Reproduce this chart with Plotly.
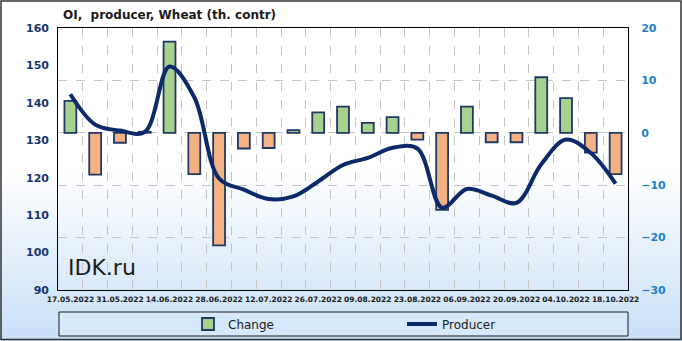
import plotly.graph_objects as go

dates = ["17.05.2022", "24.05.2022", "31.05.2022", "07.06.2022", "14.06.2022",
         "21.06.2022", "28.06.2022", "05.07.2022", "12.07.2022", "19.07.2022",
         "26.07.2022", "02.08.2022", "09.08.2022", "16.08.2022", "23.08.2022",
         "30.08.2022", "06.09.2022", "13.09.2022", "20.09.2022", "27.09.2022",
         "04.10.2022", "11.10.2022", "18.10.2022"]
change = [6.1, -8.0, -1.9, 0.2, 17.4, -7.9, -21.5, -3.0, -2.9, 0.5, 3.9, 5.0,
          1.9, 3.0, -1.3, -14.7, 5.0, -1.8, -1.8, 10.6, 6.6, -3.8, -7.9]
producer = [142.3, 134.2, 132.6, 132.2, 149.7, 141.5, 119.8, 116.8, 114.3, 115.0,
            119.0, 123.4, 125.3, 128.0, 127.8, 112.0, 117.0, 115.2, 113.3, 123.6,
            130.2, 126.6, 118.4]

idx = list(range(len(dates)))
tick_idx = idx[::2]
tick_txt = dates[::2]

W, H = 682, 341
ML, MR, MT, MB = 58, 54, 28, 51
pw = W - ML - MR
ph = H - MT - MB

bar_colors = ["#a9d18e" if v >= 0 else "#f4b183" for v in change]

fig = go.Figure()
fig.add_trace(go.Bar(
    x=idx, y=change, name="Change", yaxis="y", width=0.48,
    marker=dict(color=bar_colors, line=dict(color="#1f3864", width=1.8)),
))
fig.add_trace(go.Scatter(
    x=idx, y=producer, name="Producer", yaxis="y2", mode="lines",
    line=dict(color="#0c2a69", width=4, shape="spline", smoothing=1.0),
))

# background gradient (white -> light blue) drawn as thin bands
shapes = []
n = 40
y0px = 170
for i in range(n):
    t = i / (n - 1)
    top = y0px + (H - y0px) * i / n
    bot = y0px + (H - y0px) * (i + 1) / n + 0.6
    r = int(255 + (200 - 255) * t)
    g = int(255 + (224 - 255) * t)
    b = int(255 + (248 - 255) * t)
    shapes.append(dict(type="rect", xref="paper", yref="paper", layer="below",
                       x0=-ML / pw, x1=1 + MR / pw,
                       y0=(H - MB - bot) / ph, y1=(H - MB - top) / ph,
                       line=dict(width=0), fillcolor=f"rgb({r},{g},{b})"))
# legend box
shapes.append(dict(type="rect", xref="paper", yref="paper", layer="below",
                   x0=(59 - ML) / pw, x1=(628 - ML) / pw,
                   y0=(H - MB - 336) / ph, y1=(H - MB - 312) / ph,
                   line=dict(color="#1a1a1a", width=1), fillcolor="#d6e8fb"))
# outer border
shapes.append(dict(type="rect", xref="paper", yref="paper", layer="above",
                   x0=(1 - ML) / pw, x1=(681 - ML) / pw,
                   y0=(H - MB - 339.5) / ph, y1=(H - MB - 1) / ph,
                   line=dict(color="#333333", width=1.5), fillcolor="rgba(0,0,0,0)"))

fig.update_layout(
    width=W, height=H,
    margin=dict(l=ML, r=MR, t=MT, b=MB, pad=0, autoexpand=False),
    paper_bgcolor="white",
    plot_bgcolor="rgba(0,0,0,0)",
    shapes=shapes,
    title=dict(text="OI,  producer, Wheat (th. contr)", xref="container", yref="container",
               x=63 / W, xanchor="left", y=1 - 15 / H, yanchor="middle",
               font=dict(family="DejaVu Sans", size=12, color="#1a1a1a", weight="bold")),
    xaxis=dict(range=[-0.5, len(dates) - 0.5], tickmode="array", tickvals=tick_idx,
               ticktext=tick_txt, showgrid=False, zeroline=False, tickangle=0,
               automargin=False,
               showline=True, linecolor="black", linewidth=1, mirror=True,
               ticks="", ticklabelstandoff=2,
               tickfont=dict(family="DejaVu Sans", size=7.5, color="#1a1a1a", weight="bold"),
               minor=dict(tickmode="linear", tick0=0.5, dtick=1, showgrid=True,
                          gridcolor="#c4c4c4", griddash="dash", gridwidth=1, ticks="")),
    yaxis=dict(side="right", range=[-30, 20], dtick=10, showgrid=True,
               gridcolor="#c4c4c4", griddash="dash", gridwidth=1, zeroline=False,
               showline=True, linecolor="black", linewidth=1, mirror=True,
               ticks="", ticklabelstandoff=10, automargin=False,
               tickfont=dict(family="DejaVu Sans", size=11, color="#1f7fcf", weight="bold")),
    yaxis2=dict(overlaying="y", side="left", range=[90, 160], dtick=10, showgrid=False,
                zeroline=False, ticks="", ticklabelstandoff=8, automargin=False,
                tickfont=dict(family="DejaVu Sans", size=11, color="#17366e", weight="bold")),
    showlegend=True,
    legend=dict(orientation="h", x=(188 - ML) / pw, xanchor="left",
                y=(H - MB - 324) / ph, yanchor="middle",
                bgcolor="rgba(0,0,0,0)", borderwidth=0, entrywidth=169,
                font=dict(family="DejaVu Sans", size=12, color="#1a1a1a")),
    annotations=[dict(text="IDK.ru", xref="paper", yref="paper",
                      x=(66 - ML) / pw, y=(H - MB - 267) / ph, xanchor="left",
                      yanchor="middle", showarrow=False,
                      font=dict(family="DejaVu Sans", size=22, color="#1a1a1a"))],
)

fig.write_html("out.html")
